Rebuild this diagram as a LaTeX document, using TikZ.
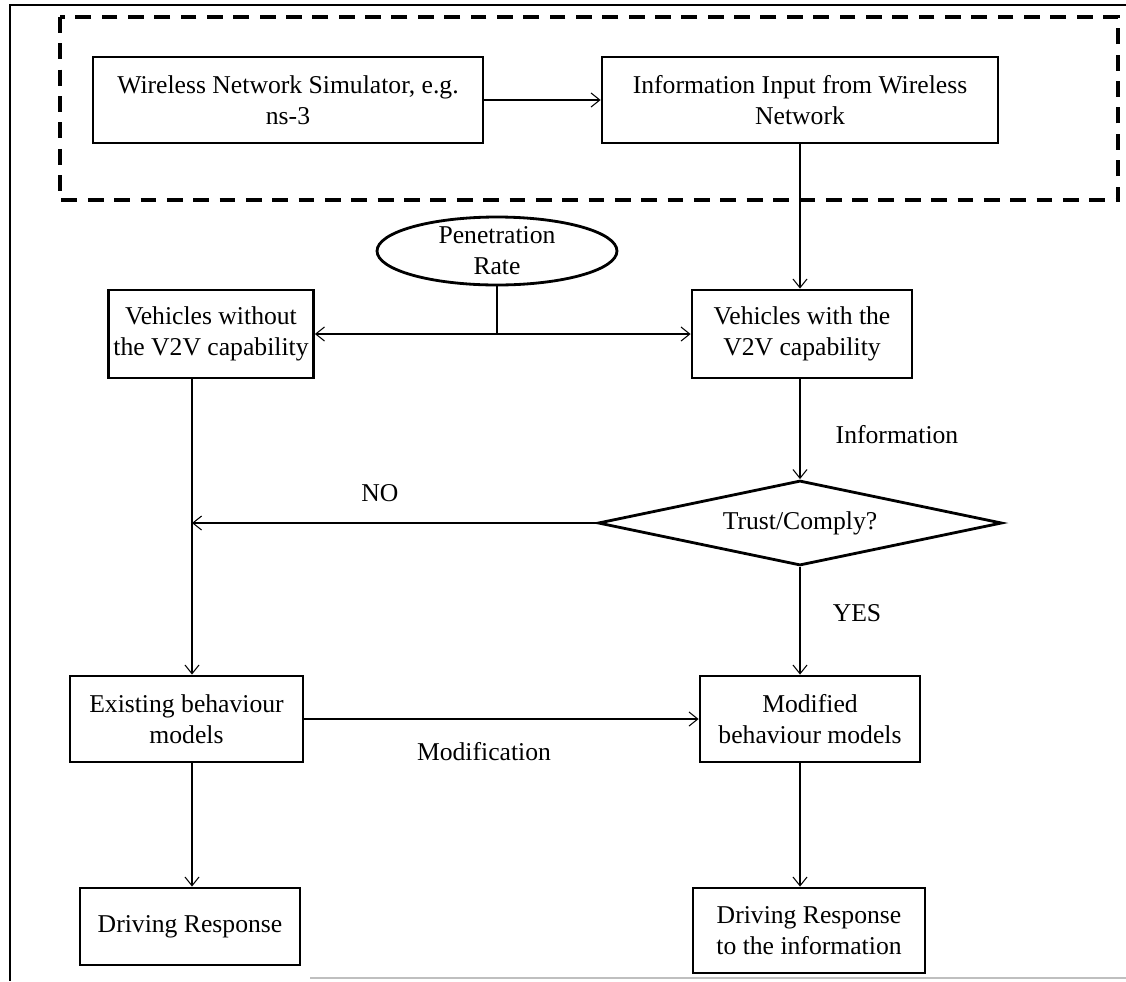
\documentclass[tikz,border=0pt]{standalone}
\usepackage{fontspec}
\setmainfont{Liberation Serif}
\usetikzlibrary{shapes.geometric,arrows.meta}

\begin{document}
\begin{tikzpicture}[x=0.02cm,y=-0.02cm,
  every node/.style={font=\fontsize{14.6}{17.5}\selectfont},
  box/.style={draw,line width=1.6pt,rectangle,align=center,inner sep=1pt},
  oval/.style={draw,line width=1.6pt,ellipse,align=center,inner sep=0pt,
    minimum width=4.8cm,minimum height=1.36cm},
  decision/.style={draw,line width=1.6pt,diamond,aspect=4.75,align=center,
    inner sep=0pt,minimum width=8.08cm,minimum height=1.7cm},
  conn/.style={line width=0.6pt},
  arr/.style={conn,-{Straight Barb[length=5pt,width=8pt]}},
  lbl/.style={inner sep=0pt}]

\useasboundingbox (0,0) rectangle (1126,981);

% page frame (top and left edges, faint bottom rule)
\draw[line width=1.6pt] (1126,5) -- (10,5) -- (10,981);
\draw[line width=1pt,black!25] (310,978) -- (1126,978);

% simulator group
\draw[line width=2pt,dash pattern=on 9pt off 6pt] (60,17) rectangle (1118,200);

% spines of the two columns
\coordinate (ls) at (192,0);
\coordinate (rs) at (800,0);

% nodes
\node[box,minimum width=7.8cm,minimum height=1.72cm] (wns) at (288,100)
  {Wireless Network Simulator, e.g.\\ns-3};
\node[box,minimum width=7.92cm,minimum height=1.72cm] (info) at (800,100)
  {Information Input from Wireless\\Network};
\node[oval] (pr) at (497,251) {Penetration\\Rate};
\node[box,minimum width=4.1cm,minimum height=1.76cm] (vwo) at (211,334)
  {Vehicles without\\the V2V capability};
\node[box,minimum width=4.4cm,minimum height=1.76cm] (vwith) at (802,334)
  {Vehicles with the\\V2V capability};
\node[decision] (dia) at (800,523) {Trust/Comply?};
\node[box,minimum width=4.66cm,minimum height=1.72cm] (exist) at (186.5,719)
  {Existing behaviour\\models};
\node[box,minimum width=4.4cm,minimum height=1.72cm] (modif) at (810,719)
  {Modified\\behaviour models};
\node[box,minimum width=4.4cm,minimum height=1.54cm] (drv) at (190,926.5)
  {Driving Response};
\node[box,minimum width=4.64cm,minimum height=1.7cm] (drvinfo) at (809,930.5)
  {Driving Response\\to the information};

% labels
\node[lbl] (linfo) at (897,435) {Information};
\node[lbl] (lno) at (380,493) {NO};
\node[lbl] (lyes) at (857,613) {YES};
\node[lbl] (lmod) at (484,752) {Modification};

% connectors
\draw[arr] (wns.east) -- (info.west);
\draw[arr] (info.south -| rs) -- (vwith.north -| rs);
\coordinate (pj) at (pr.south |- vwo.east);
\draw[conn] (pr.south) -- (pj);
\draw[arr] (pj) -- (vwo.east);
\draw[arr] (pj) -- (vwith.west);
\draw[arr] (vwith.south -| rs) -- (dia.north);
\draw[arr] (dia.west) -- (dia.west -| ls);
\draw[arr] (vwo.south -| ls) -- (exist.north -| ls);
\draw[arr] (dia.south) -- (modif.north -| rs);
\draw[arr] (exist.east) -- (modif.west);
\draw[arr] (exist.south -| ls) -- (drv.north -| ls);
\draw[arr] (modif.south -| rs) -- (drvinfo.north -| rs);

\end{tikzpicture}
\end{document}
